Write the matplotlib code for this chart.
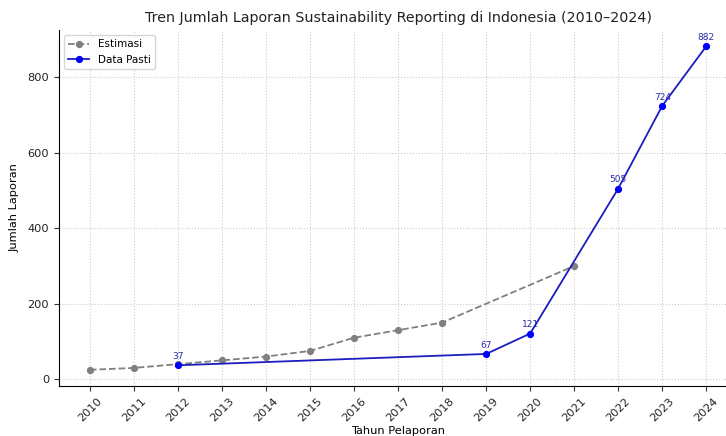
import matplotlib
matplotlib.use("Agg")
import matplotlib.pyplot as plt

# data
est_years = [2010, 2011, 2012, 2013, 2014, 2015, 2016, 2017, 2018, 2021]
est_values = [25, 30, 40, 50, 60, 75, 110, 130, 150, 300]

pasti_years = [2012, 2019, 2020, 2022, 2023, 2024]
pasti_values = [37, 67, 121, 505, 724, 882]

all_years = list(range(2010, 2025))

fig = plt.figure(figsize=(7.26, 4.36), dpi=100)
# axes runs a bit past the right edge, like the cropped original
ax = fig.add_axes([0.0813, 0.1147, 0.934, 0.8165])

ax.plot(est_years, est_values, linestyle="--", marker="o", color="gray",
        markersize=4.2, linewidth=1.3, label="Estimasi")
ax.plot(pasti_years, pasti_values, linestyle="-", marker="o", color="#1c1cc0",
        markerfacecolor="blue", markeredgecolor="blue",
        markersize=4.2, linewidth=1.3, label="Data Pasti")

for x, y in zip(pasti_years, pasti_values):
    ax.annotate(str(y), (x, y), textcoords="offset points", xytext=(0, 4.5),
                ha="center", fontsize=6.5, color="#2a2ab0")

ax.set_xticks(all_years)
ax.set_xticklabels([str(y) for y in all_years], rotation=45)
ax.tick_params(labelsize=8.2, colors="#333333", labelcolor="#222222")
ax.set_yticks([0, 200, 400, 600, 800])

ax.set_title("Tren Jumlah Laporan Sustainability Reporting di Indonesia (2010\u20132024)",
             fontsize=10.3, color="#222222")
ax.set_xlabel("Tahun Pelaporan", fontsize=8.2, labelpad=2)
ax.set_ylabel("Jumlah Laporan", fontsize=8.2, labelpad=6)

ax.grid(True, linestyle=":", color="#cccccc", linewidth=0.8)
ax.spines["top"].set_visible(False)
ax.spines["right"].set_visible(False)

ax.legend(loc="upper left", fontsize=7.5)

fig.savefig("out.png", dpi=100)
